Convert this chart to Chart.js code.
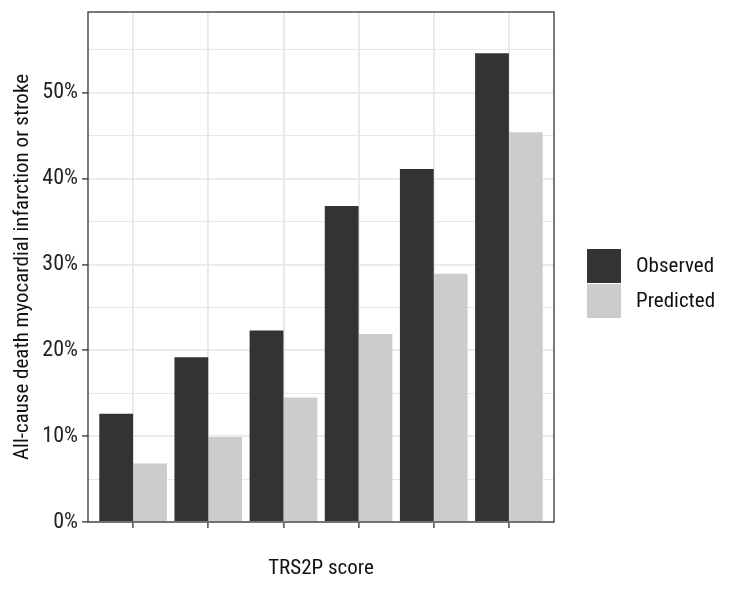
<!DOCTYPE html>
<html>
<head>
<meta charset="utf-8">
<script src="https://cdn.jsdelivr.net/npm/chart.js@4.4.1/dist/chart.umd.min.js"></script>
<style>
  html, body { margin: 0; padding: 0; background: #ffffff; }
  #wrap { width: 738px; height: 591px; }
</style>
</head>
<body>
<div id="wrap"><canvas id="chart" width="738" height="591"></canvas></div>
<script>
// TRS2P score groups (positions on the x axis, no labels printed)
const scoreGroups = [1, 2, 3, 4, 5, 6];
const scoreLabels = ['', '', '', '', '', ''];

// event rates in %
const observedRates = [12.6, 19.2, 22.3, 36.8, 41.1, 54.6];
const predictedRates = [6.8, 9.9, 14.5, 21.9, 28.9, 45.4];

// y axis ticks (every 5 %, labels only every 10 %)
const yTicks = [0, 5, 10, 15, 20, 25, 30, 35, 40, 45, 50, 55];
const yTickLabels = ['0%', '', '10%', '', '20%', '', '30%', '', '40%', '', '50%', ''];

const FONT = "'Liberation Sans Narrow', 'Roboto Condensed', 'DejaVu Sans Condensed', sans-serif";
const darkFill = '#333333';
const lightFill = '#cccccc';
const gridColor = '#e8e8e8';

// Panel border + ggplot-like legend on the right
const panelPlugin = {
    id: 'panel',
    afterDraw(chart) {
        const { ctx, chartArea, data } = chart;
        ctx.save();
        ctx.strokeStyle = '#333333';
        ctx.lineWidth = 1.3;
        ctx.strokeRect(chartArea.left, chartArea.top,
            chartArea.right - chartArea.left, chartArea.bottom - chartArea.top);

        const keyX = chartArea.right + 33;
        let keyY = chartArea.top + 237;
        const keySize = 34;
        ctx.font = '21px ' + FONT;
        ctx.textBaseline = 'middle';
        data.datasets.forEach(ds => {
            ctx.fillStyle = ds.backgroundColor;
            ctx.fillRect(keyX, keyY, keySize, keySize);
            ctx.fillStyle = '#111111';
            ctx.fillText(ds.label, keyX + keySize + 15, keyY + keySize / 2 + 1);
            keyY += keySize + 1;
        });
        ctx.restore();
    }
};

const toPoints = values => values.map((v, i) => ({ x: scoreGroups[i], y: v }));

new Chart(document.getElementById('chart').getContext('2d'), {
    type: 'bar',
    data: {
        datasets: [{
            label: 'Observed',
            data: toPoints(observedRates),
            backgroundColor: darkFill,
            borderWidth: 0,
            categoryPercentage: 0.9,
            barPercentage: 1.0
        }, {
            label: 'Predicted',
            data: toPoints(predictedRates),
            backgroundColor: lightFill,
            borderWidth: 0,
            categoryPercentage: 0.9,
            barPercentage: 1.0
        }]
    },
    options: {
        responsive: false,
        animation: false,
        layout: { padding: { top: 12, right: 184, bottom: 0, left: 0 } },
        scales: {
            x: {
                type: 'linear',
                min: 0.4,
                max: 6.6,
                offset: false,
                afterBuildTicks: scale => {
                    scale.ticks = scoreGroups.map(v => ({ value: v }));
                },
                afterFit: scale => {
                    scale.height = 69;
                    scale.paddingLeft = 0; scale.paddingRight = 0;
                    scale.paddingTop = 0; scale.paddingBottom = 0;
                },
                ticks: {
                    callback: (value, index) => scoreLabels[index] || '',
                    font: { family: FONT, size: 21 }
                },
                grid: {
                    offset: false,
                    color: gridColor,
                    lineWidth: 1.8,
                    tickColor: '#333333',
                    tickWidth: 1.3,
                    tickLength: 6
                },
                border: { display: false },
                title: {
                    display: true,
                    text: 'TRS2P score',
                    color: '#111111',
                    font: { family: FONT, size: 21 },
                    padding: { top: 4, bottom: 10 }
                }
            },
            y: {
                min: 0,
                max: 59.4,
                afterBuildTicks: scale => {
                    scale.ticks = yTicks.map(v => ({ value: v }));
                },
                afterFit: scale => {
                    scale.width = 88;
                    scale.paddingLeft = 0; scale.paddingRight = 0;
                    scale.paddingTop = 0; scale.paddingBottom = 0;
                },
                ticks: {
                    callback: (value, index) => yTickLabels[index],
                    color: '#222222',
                    padding: 4,
                    font: { family: FONT, size: 22 }
                },
                grid: {
                    color: gridColor,
                    lineWidth: ctx => (ctx.index % 2 === 0 ? 1.8 : 1.0),
                    tickColor: ctx => (ctx.index % 2 === 0 ? '#333333' : 'rgba(0,0,0,0)'),
                    tickWidth: 1.3,
                    tickLength: 6
                },
                border: { display: false },
                title: {
                    display: true,
                    text: 'All-cause death myocardial infarction or stroke',
                    color: '#111111',
                    font: { family: FONT, size: 21 },
                    padding: { top: 10, bottom: 4 }
                }
            }
        },
        plugins: {
            legend: { display: false },
            tooltip: { enabled: false }
        }
    },
    plugins: [panelPlugin]
});
</script>
</body>
</html>
